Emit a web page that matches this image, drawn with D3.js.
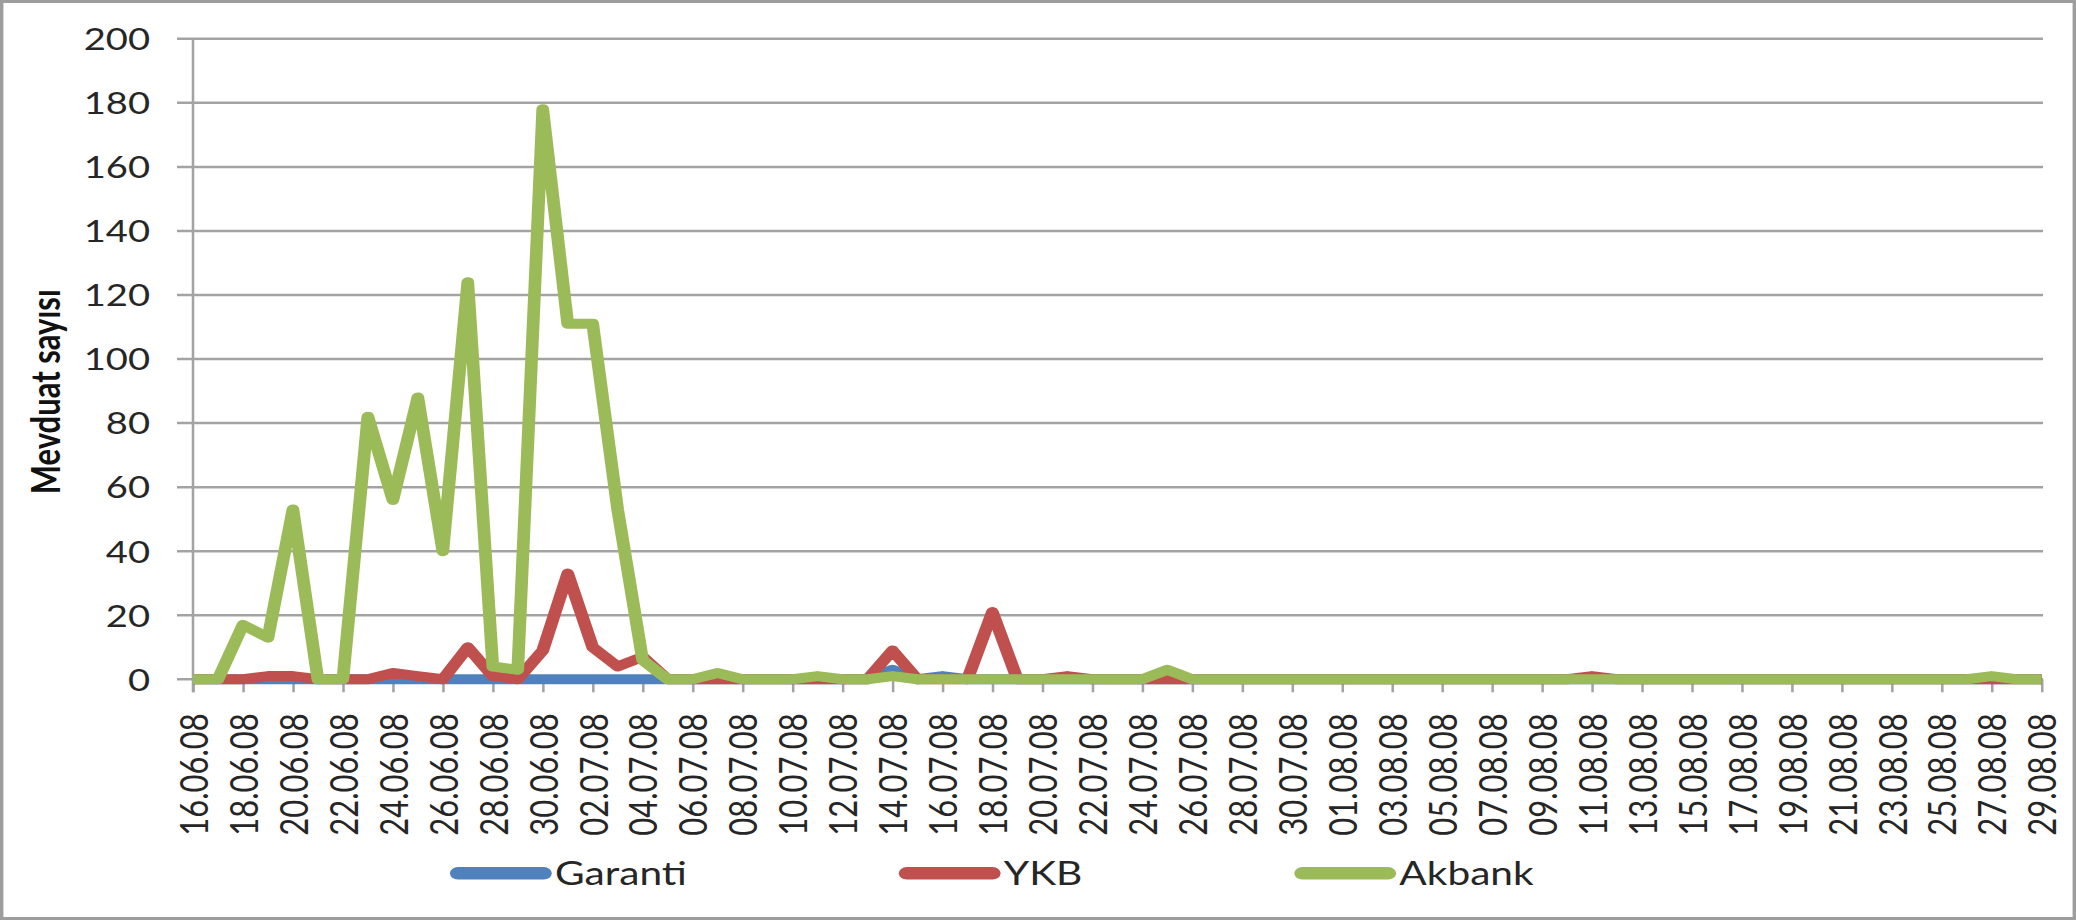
<!DOCTYPE html>
<html>
<head>
<meta charset="utf-8">
<script src="https://cdn.jsdelivr.net/npm/d3@7/dist/d3.min.js"></script>
<style>
body { margin: 0; background: #fff; }
svg { display: block; }
</style>
</head>
<body>
<div id="my_dataviz"></div>
<script>

// every day from 16.06.08 to 29.08.08
var dates = [
  "16.06.08","17.06.08","18.06.08","19.06.08","20.06.08","21.06.08","22.06.08","23.06.08",
  "24.06.08","25.06.08","26.06.08","27.06.08","28.06.08","29.06.08","30.06.08",
  "01.07.08","02.07.08","03.07.08","04.07.08","05.07.08","06.07.08","07.07.08","08.07.08",
  "09.07.08","10.07.08","11.07.08","12.07.08","13.07.08","14.07.08","15.07.08","16.07.08",
  "17.07.08","18.07.08","19.07.08","20.07.08","21.07.08","22.07.08","23.07.08","24.07.08",
  "25.07.08","26.07.08","27.07.08","28.07.08","29.07.08","30.07.08","31.07.08",
  "01.08.08","02.08.08","03.08.08","04.08.08","05.08.08","06.08.08","07.08.08","08.08.08",
  "09.08.08","10.08.08","11.08.08","12.08.08","13.08.08","14.08.08","15.08.08","16.08.08",
  "17.08.08","18.08.08","19.08.08","20.08.08","21.08.08","22.08.08","23.08.08","24.08.08",
  "25.08.08","26.08.08","27.08.08","28.08.08","29.08.08"
];

// deposit counts per day (june / july / august rows)
var garanti = [
  0,0,0,0,0,0,0,0,0,0,0,0,0,0,0,
  0,0,0,0,0,0,0,0,0,0,0,0,0,3,0,1,0,0,0,0,0,0,0,0,0,0,0,0,0,0,0,
  0,0,0,0,0,0,0,0,0,0,0,0,0,0,0,0,0,0,0,0,0,0,0,0,0,0,0,0,0
];
var ykb = [
  0,0,0,1,1,0,0,0,2,1,0,10,1,0,9,
  33,10,4,7,0,0,0,0,0,0,0,0,0,9,0,0,0,21,0,0,1,0,0,0,0,0,0,0,0,0,0,
  0,0,0,0,0,0,0,0,0,0,1,0,0,0,0,0,0,0,0,0,0,0,0,0,0,0,0,0,0
];
var akbank = [
  0,0,17,13,53,0,0,82,56,88,40,124,4,3,178,
  111,111,53,6,0,0,2,0,0,0,1,0,0,1,0,0,0,0,0,0,0,0,0,0,3,0,0,0,0,0,0,
  0,0,0,0,0,0,0,0,0,0,0,0,0,0,0,0,0,0,0,0,0,0,0,0,0,0,1,0,0
];

var seriesNames = ["Garanti", "YKB", "Akbank"];
var seriesColors = ["#4F81BD", "#C0504D", "#9BBB59"];
var yTicks = [0, 20, 40, 60, 80, 100, 120, 140, 160, 180, 200];

// the original picture is stretched sideways, so draw in a narrower box and stretch it
var W = 2076, H = 920, SX = 1.27;
function px(v) { return v / SX; }

var svg = d3.select("#my_dataviz")
  .append("svg")
  .attr("width", W)
  .attr("height", H)
  .attr("viewBox", "0 0 " + (W / SX) + " " + H)
  .attr("preserveAspectRatio", "none");

// outer frame
svg.append("rect")
  .attr("x", px(1.5))
  .attr("y", 1.5)
  .attr("width", px(W - 3))
  .attr("height", H - 3)
  .attr("fill", "#fff")
  .attr("stroke", "#9d9d9d")
  .attr("stroke-width", 3);

var x = d3.scalePoint()
  .domain(dates)
  .range([px(193), px(2041.6)]);

var y = d3.scaleLinear()
  .domain([0, 200])
  .range([679.3, 38.8]);

// horizontal grid lines
svg.selectAll(".grid")
  .data(yTicks)
  .enter()
  .append("line")
    .attr("class", "grid")
    .attr("x1", px(177))
    .attr("x2", px(2043))
    .attr("y1", function(d) { return y(d); })
    .attr("y2", function(d) { return y(d); })
    .attr("stroke", "#a3a3a3")
    .attr("stroke-width", 2.5);

// y axis line
svg.append("line")
  .attr("x1", px(193))
  .attr("x2", px(193))
  .attr("y1", y(200))
  .attr("y2", y(0) + 13)
  .attr("stroke", "#a3a3a3")
  .attr("stroke-width", 2);

// Y axis labels
var yAxis = svg.append("g")
  .attr("transform", "translate(" + px(150) + ",0)")
  .call(d3.axisLeft(y).tickValues(yTicks).tickSize(0).tickPadding(0));
yAxis.select(".domain").remove();
yAxis.selectAll("text")
  .attr("dy", "0.36em")
  .style("font-family", "Lato")
  .style("font-size", "30px")
  .style("fill", "#262626");

// X axis, a label on every second day
var xAxis = svg.append("g")
  .attr("transform", "translate(0," + y(0) + ")")
  .call(d3.axisBottom(x)
    .tickValues(dates.filter(function(d, i) { return i % 2 === 0; }))
    .tickSize(13)
    .tickSizeOuter(0));
xAxis.select(".domain").remove();
xAxis.selectAll("line")
  .attr("stroke", "#a3a3a3")
  .attr("stroke-width", 2);
xAxis.selectAll("text")
  .attr("transform", "rotate(-90)")
  .attr("text-anchor", "end")
  .attr("x", -34)
  .attr("y", 0)
  .attr("dy", "0.36em")
  .style("font-family", "Lato")
  .style("font-size", "31px")
  .style("fill", "#262626");

// y axis title
svg.append("text")
  .attr("transform", "translate(" + px(60) + ",391.7) rotate(-90)")
  .attr("text-anchor", "middle")
  .style("font-family", "Lato")
  .style("font-weight", "bold")
  .style("font-size", "31px")
  .style("fill", "#111")
  .text("Mevduat sayısı");

// the three series, Akbank drawn last so it sits on top
var allSeries = [garanti, ykb, akbank];
var line = d3.line()
  .x(function(d, i) { return x(dates[i]); })
  .y(function(d) { return y(d); });

svg.selectAll(".series")
  .data(allSeries)
  .enter()
  .append("path")
    .attr("class", "series")
    .attr("d", line)
    .attr("fill", "none")
    .attr("stroke", function(d, i) { return seriesColors[i]; })
    .attr("stroke-width", 10)
    .attr("stroke-linejoin", "round");

// legend under the axis labels
var legend = svg.append("g").attr("transform", "translate(0,873.3)");
var lx = px(450);
seriesNames.forEach(function(name, i) {
  legend.append("line")
    .attr("x1", lx + 6.2)
    .attr("x2", lx + px(101.7) - 6.2)
    .attr("y1", 0)
    .attr("y2", 0)
    .attr("stroke", seriesColors[i])
    .attr("stroke-width", 12.5)
    .attr("stroke-linecap", "round");
  var t = legend.append("text")
    .attr("x", lx + px(105))
    .attr("y", 0)
    .attr("dy", "0.36em")
    .style("font-family", "Lato")
    .style("font-size", "32px")
    .style("fill", "#262626")
    .text(name);
  lx = lx + px(105) + t.node().getComputedTextLength() + px(212);
});

</script>
</body>
</html>
